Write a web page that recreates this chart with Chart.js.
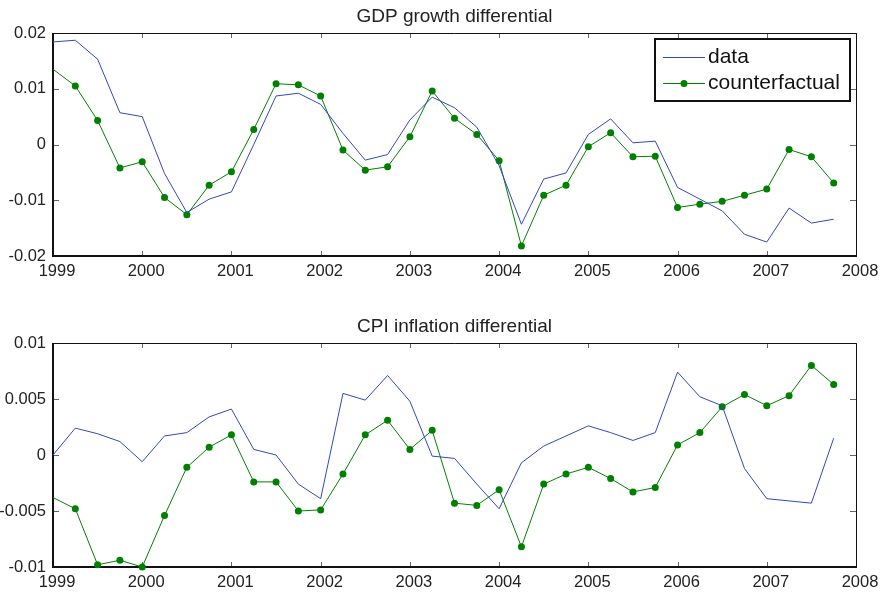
<!DOCTYPE html>
<html>
<head>
<meta charset="utf-8">
<script src="https://cdn.jsdelivr.net/npm/chart.js@4"></script>
<style>
  body { margin: 0; background: #fff; }
  canvas { position: absolute; left: 0; }
</style>
</head>
<body>
<canvas id="gdpChart" width="885" height="297" style="top:0"></canvas>
<canvas id="cpiChart" width="885" height="297" style="top:297px"></canvas>
<script>
const quarters = [
  1999, 1999.25, 1999.5, 1999.75, 2000, 2000.25, 2000.5, 2000.75,
  2001, 2001.25, 2001.5, 2001.75, 2002, 2002.25, 2002.5, 2002.75,
  2003, 2003.25, 2003.5, 2003.75, 2004, 2004.25, 2004.5, 2004.75,
  2005, 2005.25, 2005.5, 2005.75, 2006, 2006.25, 2006.5, 2006.75,
  2007, 2007.25, 2007.5, 2007.75
];
const yearTicks = [1999, 2000, 2001, 2002, 2003, 2004, 2005, 2006, 2007, 2008];

const gdpData = [
  0.0184, 0.0187, 0.0153, 0.0057, 0.0050, -0.0052, -0.0122, -0.0098,
  -0.0085, 0.0000, 0.0087, 0.0092, 0.0072, 0.0020, -0.0028, -0.0018,
  0.0044, 0.0085, 0.0066, 0.0031, -0.0038, -0.0143, -0.0062, -0.0051,
  0.0018, 0.0046, 0.0003, 0.0006, -0.0077, -0.0098, -0.0119, -0.0161,
  -0.0175, -0.0114, -0.0141, -0.0134
];
const gdpCounterfactual = [
  0.0135, 0.0105, 0.0043, -0.0042, -0.0031, -0.0095, -0.0126, -0.0073,
  -0.0049, 0.0027, 0.0109, 0.0107, 0.0087, -0.0010, -0.0046, -0.0040,
  0.0014, 0.0096, 0.0047, 0.0018, -0.0029, -0.0182, -0.0091, -0.0073,
  -0.0004, 0.0021, -0.0022, -0.0021, -0.0113, -0.0107, -0.0102, -0.0091,
  -0.0080, -0.0009, -0.0022, -0.0069
];
const cpiData = [
  0.0000, 0.0024, 0.0019, 0.0012, -0.0006, 0.0017, 0.0020, 0.0034,
  0.0041, 0.0005, 0.0000, -0.0026, -0.0039, 0.0055, 0.0049, 0.0071,
  0.0048, -0.0001, -0.0003, -0.0026, -0.0048, -0.0007, 0.0008, 0.0017,
  0.0026, 0.0020, 0.0013, 0.0020, 0.0074, 0.0052, 0.0044, -0.0012,
  -0.0039, -0.0041, -0.0043, 0.0015
];
const cpiCounterfactual = [
  -0.0038, -0.0048, -0.0098, -0.0094, -0.0100, -0.0054, -0.0011, 0.0007,
  0.0018, -0.0024, -0.0024, -0.0050, -0.0049, -0.0017, 0.0018, 0.0031,
  0.0005, 0.0022, -0.0043, -0.0045, -0.0031, -0.0082, -0.0026, -0.0017,
  -0.0011, -0.0021, -0.0033, -0.0029, 0.0009, 0.0020, 0.0043, 0.0054,
  0.0044, 0.0053, 0.0080, 0.0063
];

const FONT = '"Liberation Sans", Arial, Helvetica, sans-serif';
const BLUE = '#3347c0';
const GREEN = '#008000';

const toPoints = vals => vals.map((v, i) => ({ x: quarters[i], y: v }));

// box, inward ticks and title, like the original matlab axes
const framePlugin = {
  id: 'frame',
  beforeDatasetsDraw(chart, args, opts) {
    const { ctx, chartArea: a, scales } = chart;
    ctx.save();
    ctx.strokeStyle = '#666';
    ctx.lineWidth = 1;
    scales.x.ticks.forEach(t => {
      const px = Math.round(scales.x.getPixelForValue(t.value)) + 0.5;
      ctx.beginPath();
      ctx.moveTo(px, a.top); ctx.lineTo(px, a.top + 5);
      ctx.moveTo(px, a.bottom); ctx.lineTo(px, a.bottom - 5);
      ctx.stroke();
    });
    scales.y.ticks.forEach(t => {
      const py = Math.round(scales.y.getPixelForValue(t.value)) + 0.5;
      ctx.beginPath();
      ctx.moveTo(a.left, py); ctx.lineTo(a.left + 6, py);
      ctx.moveTo(a.right, py); ctx.lineTo(a.right - 6, py);
      ctx.stroke();
    });
    ctx.strokeStyle = '#111';
    ctx.lineWidth = 1;
    ctx.beginPath();
    ctx.moveTo(a.left, a.top + 0.5); ctx.lineTo(a.right + 0.5, a.top + 0.5);
    ctx.lineTo(a.right + 0.5, a.bottom);
    ctx.stroke();
    ctx.lineWidth = 2;
    ctx.beginPath();
    ctx.moveTo(a.left, a.top); ctx.lineTo(a.left, a.bottom);
    ctx.lineTo(a.right + 1, a.bottom);
    ctx.stroke();

    ctx.fillStyle = '#222';
    ctx.font = '19px ' + FONT;
    ctx.textAlign = 'center';
    ctx.textBaseline = 'alphabetic';
    ctx.fillText(opts.title, (a.left + a.right) / 2, a.top - 11);
    ctx.restore();
  },
  afterDatasetsDraw(chart, args, opts) {
    if (!opts.legend) return;
    const { ctx } = chart;
    const ds = chart.data.datasets;
    ctx.save();
    ctx.fillStyle = '#fff';
    ctx.fillRect(655, 39, 195, 62);
    ctx.strokeStyle = '#111';
    ctx.lineWidth = 2;
    ctx.strokeRect(655, 39, 195, 62);
    ctx.font = '21px ' + FONT;
    ctx.textAlign = 'left';
    ctx.textBaseline = 'alphabetic';
    const rows = [57, 83];
    ds.forEach((d, i) => {
      const y = rows[i] + 0.5;
      ctx.strokeStyle = d.borderColor;
      ctx.lineWidth = 1;
      ctx.beginPath();
      ctx.moveTo(663, y); ctx.lineTo(705, y);
      ctx.stroke();
      if (i === 1) {
        ctx.fillStyle = d.backgroundColor;
        ctx.beginPath();
        ctx.arc(684, y, 3.5, 0, Math.PI * 2);
        ctx.fill();
      }
      ctx.fillStyle = '#111';
      ctx.fillText(d.label, 708, y + 5);
    });
    ctx.restore();
  }
};

function makeChart(id, title, dataVals, cfVals, yMin, yMax, yStep, padTop, axisH, padBottom, legend) {
  return new Chart(document.getElementById(id).getContext('2d'), {
    type: 'line',
    data: {
      datasets: [{
        label: 'data',
        data: toPoints(dataVals),
        borderColor: BLUE,
        backgroundColor: BLUE,
        borderWidth: 1,
        pointRadius: 0,
        tension: 0
      }, {
        label: 'counterfactual',
        data: toPoints(cfVals),
        borderColor: GREEN,
        backgroundColor: GREEN,
        borderWidth: 1,
        pointRadius: c => c.dataIndex === 0 ? 0 : 3.5,
        pointBorderWidth: 0,
        tension: 0,
        clip: false
      }]
    },
    options: {
      responsive: false,
      animation: false,
      devicePixelRatio: 1,
      layout: { padding: { top: padTop, right: 29, bottom: padBottom, left: 0 } },
      plugins: {
        legend: { display: false },
        tooltip: { enabled: false },
        frame: { title: title, legend: legend }
      },
      scales: {
        x: {
          type: 'linear',
          min: 1999,
          max: 2008,
          afterBuildTicks: s => { s.ticks = yearTicks.map(v => ({ value: v })); },
          afterFit: s => { s.height = axisH; },
          grid: { display: false, drawTicks: false },
          border: { display: false },
          ticks: {
            autoSkip: false,
            maxRotation: 0,
            padding: 6,
            labelOffset: 4,
            color: '#222',
            font: { family: FONT, size: 16.5 },
            callback: v => String(v)
          }
        },
        y: {
          min: yMin,
          max: yMax,
          afterFit: s => { s.width = 53; },
          grid: { display: false, drawTicks: false },
          border: { display: false },
          ticks: {
            stepSize: yStep,
            padding: 7,
            color: '#222',
            font: { family: FONT, size: 16.5 },
            callback: v => String(Math.round(v * 1000) / 1000)
          }
        }
      }
    },
    plugins: [framePlugin]
  });
}

makeChart('gdpChart', 'GDP growth differential', gdpData, gdpCounterfactual,
  -0.02, 0.02, 0.01, 33, 40, 1, true);
makeChart('cpiChart', 'CPI inflation differential', cpiData, cpiCounterfactual,
  -0.01, 0.01, 0.005, 46, 27, 0, false);
</script>
</body>
</html>
